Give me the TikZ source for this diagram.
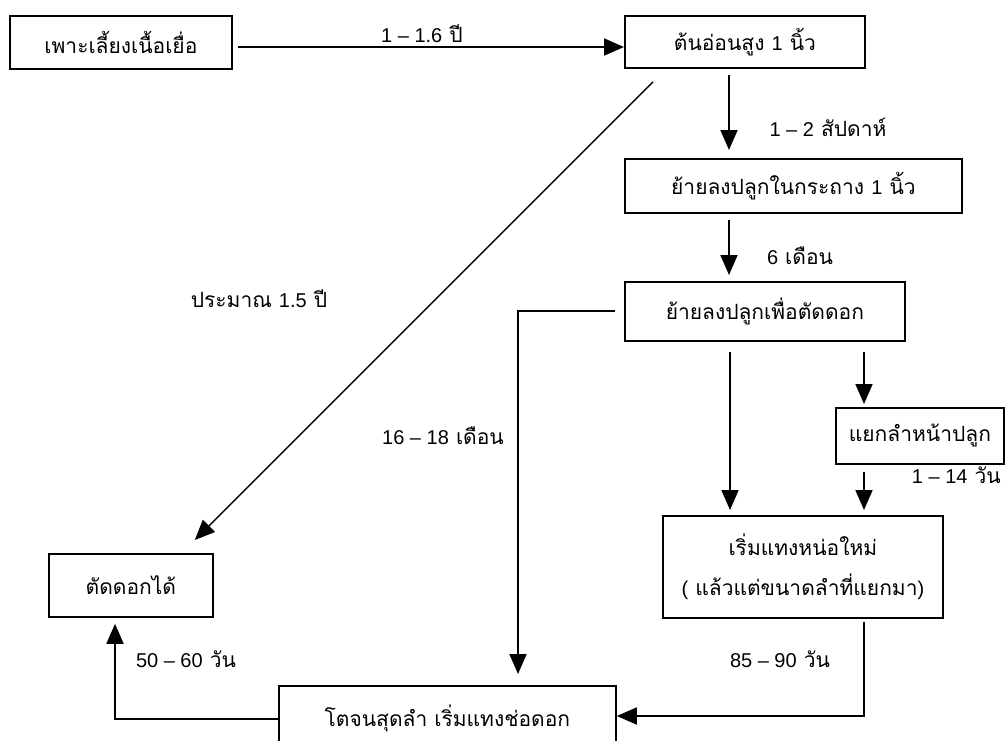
\documentclass[tikz,border=0pt]{standalone}
\usepackage{fontspec}
\newfontfamily\thaifont[Script=Thai]{Loma}
\newfontfamily\latf{Liberation Sans}
\usetikzlibrary{arrows.meta,calc}
\begin{document}
\begin{tikzpicture}[x=1pt,y=-1pt,
  box/.style={draw, line width=1.8pt, inner sep=0pt, anchor=north west,
    font=\thaifont\fontsize{21}{24}\selectfont, align=center},
  lbl/.style={font=\thaifont\fontsize{21}{24}\selectfont, inner sep=0pt},
  arr/.style={line width=1.8pt, -{Triangle[length=20pt,width=17pt]}},
  diag/.style={line width=1.4pt, -{Triangle[length=20pt,width=17pt]}}]
\clip (0,0) rectangle (1005,740);
\fill[white] (0,0) rectangle (1005,740);
% boxes
\node[box, minimum width=222, minimum height=53] (b1) at (9,15) {เพาะเลี้ยงเนื้อเยื่อ};
\node[box, minimum width=240, minimum height=52] (b2) at (624,15) {ต้นอ่อนสูง {\latf\fontsize{20}{24}\selectfont 1} นิ้ว};
\node[box, minimum width=337, minimum height=54] (b3) at (624,158) {ย้ายลงปลูกในกระถาง {\latf\fontsize{20}{24}\selectfont 1} นิ้ว};
\node[box, minimum width=280, minimum height=59] (b4) at (624,281) {ย้ายลงปลูกเพื่อตัดดอก};
\node[box, minimum width=168, minimum height=56] (b8) at (835,407) {แยกลำหน้าปลูก};
\node[box, minimum width=280, minimum height=102] (b5) at (662,515) {เริ่มแทงหน่อใหม่\\[16pt]{\latf\fontsize{20}{24}\selectfont (} แล้วแต่ขนาดลำที่แยกมา{\latf\fontsize{20}{24}\selectfont )}};
\node[box, minimum width=337, minimum height=66] (b6) at (278,685) {โตจนสุดลำ เริ่มแทงช่อดอก};
\node[box, minimum width=164, minimum height=63] (b7) at (48,553) {ตัดดอกได้};
% column helpers
\coordinate (cA) at (729,0);
\coordinate (cB) at (864,0);
\coordinate (cC) at (518,0);
\coordinate (cD) at (115,0);
% connectors
\draw[arr] ($(b1.north east)+(5,32)$) -- ($(b2.north west)+(0,32)$);
\draw[arr] ($(b2.south -| cA)+(0,6)$) -- ($(b3.north -| cA)+(0,-8)$);
\draw[arr] ($(b3.south -| cA)+(0,6)$) -- ($(b4.north -| cA)+(0,-6)$);
\draw[arr] ($(b4.north west)+(-9,30)$) -| ($(b6.north -| cC)+(0,-11)$);
\draw[arr] ($(b4.south -| cA)+(1,10)$) -- ($(b5.north -| cA)+(1,-5)$);
\draw[arr] ($(b4.south -| cB)+(0,10)$) -- ($(b8.north -| cB)+(0,-3)$);
\draw[arr] ($(b8.south -| cB)+(0,7)$) -- ($(b5.north -| cB)+(0,-5)$);
\draw[arr] ($(b5.south -| cB)+(0,3)$) |- ($(b6.north east)+(0,31)$);
\draw[arr] ($(b6.north west)+(0,34)$) -| ($(b7.south -| cD)+(0,6)$);
\draw[diag] ($(b2.south west)+(29,13)$) -- ($(b7.north east)+(-19,-13)$);
% labels
\node[lbl] (l1) at (422,34) {{\latf\fontsize{20}{24}\selectfont 1 – 1.6} ปี};
\node[lbl] (l2) at (828,127) {{\latf\fontsize{20}{24}\selectfont 1 – 2} สัปดาห์};
\node[lbl] (l3) at (800,256) {{\latf\fontsize{20}{24}\selectfont 6} เดือน};
\node[lbl] (l4) at (259,299) {ประมาณ {\latf\fontsize{20}{24}\selectfont 1.5} ปี};
\node[lbl] (l5) at (443,436) {{\latf\fontsize{20}{24}\selectfont 16 – 18} เดือน};
\node[lbl, anchor=east] (l6) at (1001,475) {{\latf\fontsize{20}{24}\selectfont 1 – 14} วัน};
\node[lbl] (l7) at (780,659) {{\latf\fontsize{20}{24}\selectfont 85 – 90} วัน};
\node[lbl] (l8) at (186,659) {{\latf\fontsize{20}{24}\selectfont 50 – 60} วัน};
\end{tikzpicture}
\end{document}
